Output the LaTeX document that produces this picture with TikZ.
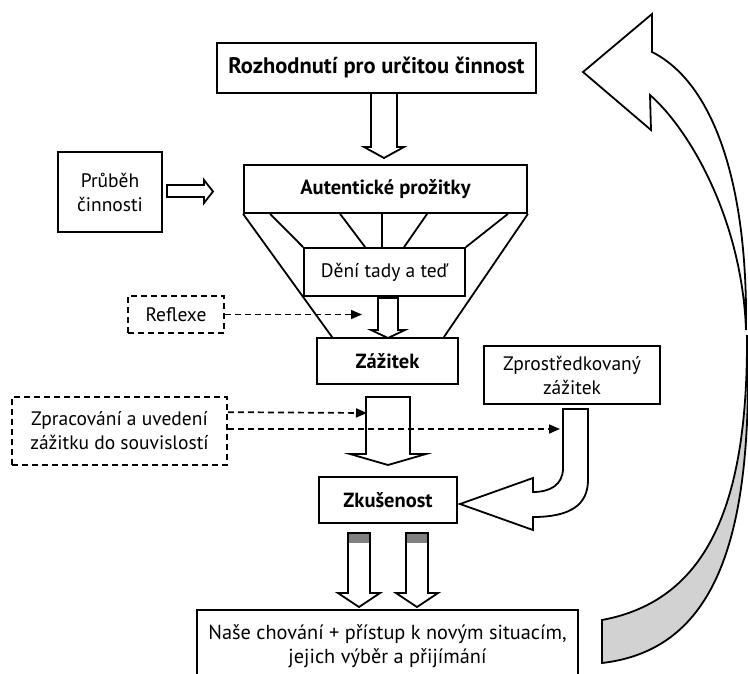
\documentclass[tikz,border=0pt]{standalone}
\usepackage{fontspec}
\setmainfont{PT Sans}
\usetikzlibrary{arrows.meta,calc}
\begin{document}
\begin{tikzpicture}[x=1pt,y=-1pt,
  box/.style={draw, line width=1.8pt, fill=white, inner sep=0pt, align=center},
  dbox/.style={draw, line width=1.7pt, dash pattern=on 6pt off 4pt, inner sep=0pt, align=center},
  blk/.style={draw, line width=1.8pt, fill=white, line join=miter},
  darr/.style={line width=1.7pt, dash pattern=on 6pt off 4pt, -{Triangle[length=11pt,width=9pt]}},
  funnel/.style={line width=1.8pt},
  reg/.style={font=\fontsize{19.5}{24}\selectfont},
  bld/.style={font=\fontsize{20.5}{24}\selectfont\bfseries},
]
\useasboundingbox (0,0) rectangle (748,673);

% big curved return arrow
\draw[line width=1.8pt, fill=gray!35] (747,335) .. controls (748,500) and (710,600) .. (602,620)
  -- (602,663) .. controls (715,650) and (750,540) .. (748,360) -- cycle;
\draw[blk] (583,72) -- (652,14) -- (652,52) .. controls (712,82) and (748,180) .. (746,330)
  .. controls (742,220) and (690,130) .. (650,95) -- (651,130) -- cycle;

% funnel lines (behind boxes)
\node[box, minimum width=283pt, minimum height=48pt] (aut) at (385.5,189) {};
\node[box, minimum width=141pt, minimum height=46pt] (zaz) at (387.5,361) {};
\node[box, minimum width=161pt, minimum height=48pt] (deni) at (384.5,272) {};
\draw[funnel] (aut.south west) -- ($(zaz.north west)+(16,0)$);
\draw[funnel] (aut.south east) -- ($(zaz.north east)+(-15,0)$);
\draw[funnel] ($(aut.south west)+(27,0)$) -- (deni.north west);
\draw[funnel] ($(aut.south west)+(97,0)$) -- ($(deni.north west)+(62,0)$);
\draw[funnel] ($(aut.south west)+(139,0)$) -- ($(deni.north west)+(79,0)$);
\draw[funnel] ($(aut.south west)+(184,0)$) -- ($(deni.north west)+(101,0)$);
\draw[funnel] ($(aut.south east)+(-20,0)$) -- (deni.north east);

% boxes with text
\node[box, minimum width=283pt, minimum height=48pt, bld] at (aut) {Autentické prožitky};
\node[box, minimum width=161pt, minimum height=48pt, reg] at (deni) {Dění tady a teď};
\node[box, minimum width=141pt, minimum height=46pt, bld] at (zaz) {Zážitek};
\node[box, minimum width=319pt, minimum height=50pt, font=\fontsize{22.5}{26}\selectfont\bfseries] (top) at (376.5,68) {Rozhodnutí pro určitou činnost};
\node[box, minimum width=104pt, minimum height=80pt, reg] (prub) at (110,192) {Průběh\\činnosti};
\node[dbox, minimum width=96pt, minimum height=37pt, reg] (refl) at (176,314.5) {Reflexe};
\node[dbox, minimum width=215pt, minimum height=68pt, reg] (zpr) at (119.5,431) {Zpracování a uvedení\\zážitku do souvislostí};
\node[box, minimum width=176pt, minimum height=58pt, reg] (zpro) at (572,375) {Zprostředkovaný\\zážitek};
\node[box, minimum width=138pt, minimum height=46pt, bld] (zku) at (388,500) {Zkušenost};
\node[box, minimum width=381pt, minimum height=91pt, anchor=north] (bot) at (387.5,609) {};
\node[font=\fontsize{20.3}{24}\selectfont, align=center, inner sep=0pt] (bottxt) at (387.5,646) {Naše chování + přístup k novým situacím,\\jejich výběr a přijímání};

% block arrows
\draw[blk] (371,93) -- (371,147) -- (364,147) -- (384,158) -- (404,147) -- (397,147) -- (397,93) -- cycle;
\draw[blk] (167,185) -- (204,185) -- (204,180) -- (213,191.5) -- (204,203) -- (204,197) -- (167,197) -- cycle;
\draw[blk] (378,298) -- (378,330) -- (371,330) -- (388,338) -- (405,330) -- (398,330) -- (398,298) -- cycle;
\draw[blk] (366,397) -- (366,454) -- (350,454) -- (388,465) -- (426,454) -- (410,454) -- (410,397) -- cycle;
\foreach \cx in {359,417} {
  \fill[gray] (\cx-11,533) rectangle (\cx+11,543);
  \draw[line width=1.8pt, line join=miter] (\cx-11,533) -- (\cx-11,593) -- (\cx-21,593) -- (\cx,607) -- (\cx+21,593) -- (\cx+11,593) -- (\cx+11,533) -- cycle;
}
% U-shaped arrow
\draw[blk] (563,409) -- (563,468) .. controls (563,485) and (550,492) .. (533,492) -- (533,478) -- (460,504)
  -- (533,530) -- (533,517) .. controls (570,517) and (588,505) .. (588,480) -- (588,409) -- cycle;

% dashed connectors
\coordinate (r1) at (362,314.5);
\coordinate (z1) at (367,413);
\coordinate (z2) at (560,429);
\draw[darr] (refl.east) -- (r1);
\draw[darr] ($(zpr.north east)+(0,16)$) -- (z1);
\draw[darr] ($(zpr.east)+(0,-2)$) -- (z2);
\end{tikzpicture}
\end{document}
